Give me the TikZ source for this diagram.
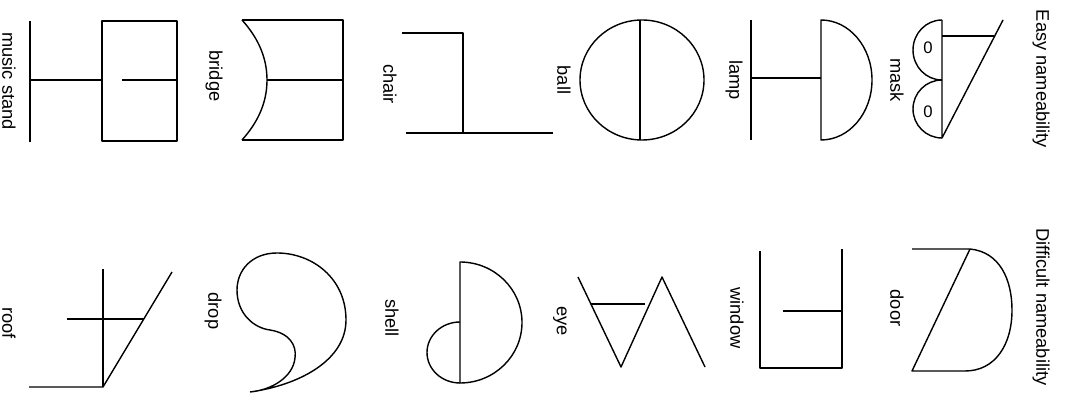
\documentclass[tikz,border=0pt]{standalone}
\usepackage{fontspec}
\setmainfont{Liberation Sans}
\usetikzlibrary{positioning}

\begin{document}
\begin{tikzpicture}[
    x=0.02cm, y=-0.02cm,
    every node/.style={font=\fontsize{10.4}{12}\selectfont},
    lbl/.style={rotate=-90, inner sep=0pt},
    fig/.style={line width=0.8pt, black, line join=round}
]
\useasboundingbox (0,0) rectangle (1065,394);

% --- Group headings ---
\node[lbl] (easy) at (1041,79) {Easy nameability};
\node[lbl] (hard) at (1041,307) {Difficult nameability};

% --- Easy row ---
% music stand
\draw[fig] (30,21) -- (30,142);
\draw[fig] (30,80) -- (102,80);
\draw[fig] (102,21) rectangle (177,141);
\draw[fig] (122,80) -- (177,80);
\node[lbl] (musicstand) at (9,81) {music stand};

% bridge
\draw[fig] (242,20) .. controls (260,40) and (267,60) .. (267,80)
    .. controls (267,100) and (260,120) .. (242,140);
\draw[fig] (242,20) -- (343,20) -- (343,140) -- (242,140);
\draw[fig] (267,80) -- (343,80);
\node[lbl] (bridge) at (214,76) {bridge};

% chair
\draw[fig] (402,33) -- (463,33) -- (463,133);
\draw[fig] (406,133) -- (553,133);
\node[lbl] (chair) at (390,84) {chair};

% ball
\draw[fig] (642,80) ellipse [x radius=62, y radius=60];
\draw[fig] (640,20) -- (640,140);
\node[lbl] (ball) at (564,80) {ball};

% lamp
\draw[fig] (751,20) -- (751,140);
\draw[fig] (751,78) -- (821,78);
\draw[fig] (821,20) arc[start angle=-90, end angle=90, x radius=51, y radius=60] -- cycle;
\node[lbl] (lamp) at (734,80) {lamp};

% mask
\draw[fig] (942,20) arc[start angle=-90, end angle=-270, x radius=29, y radius=30];
\draw[fig] (942,80) arc[start angle=-90, end angle=-270, x radius=29, y radius=29];
\draw[fig] (942,20) -- (942,138) -- (1003,20);
\draw[fig] (942,36) -- (994,36);
\node[font=\fontsize{9.5}{10}\selectfont, inner sep=0pt] (eyetop) at (928,48) {0};
\node[font=\fontsize{9.5}{10}\selectfont, inner sep=0pt] (eyebot) at (928,112) {0};
\node[lbl] (mask) at (897,80) {mask};

% --- Difficult row ---
% roof
\draw[fig] (103,269) -- (103,387);
\draw[fig] (29,387) -- (103,387) -- (172,272);
\draw[fig] (67,319) -- (144,319);
\node[lbl] (roof) at (9,323) {roof};

% drop
\draw[fig] (250,392) .. controls (300,385) and (346,360) .. (346,320)
    .. controls (346,278) and (312,253) .. (277,253)
    .. controls (252,253) and (237,270) .. (237,290)
    .. controls (237,314) and (254,328) .. (270,330)
    .. controls (289,333) and (297,345) .. (295,358)
    .. controls (293,377) and (272,390) .. (250,392);
\node[lbl] (drop) at (213,311) {drop};

% shell
\draw[fig] (460,262) arc[start angle=-90, end angle=90, x radius=62, y radius=60.5] -- cycle;
\draw[fig] (460,322) arc[start angle=-90, end angle=-270, x radius=33, y radius=30.5];
\node[lbl] (shell) at (392,318) {shell};

% eye
\draw[fig] (578,277) -- (621,367) -- (662,277) -- (705,367);
\draw[fig] (591,304) -- (645,304);
\node[lbl] (eye) at (560,321) {eye};

% window
\draw[fig] (760,251) -- (760,368) -- (842,368) -- (842,249);
\draw[fig] (783,311) -- (842,311);
\node[lbl] (window) at (737,318) {window};

% door
\draw[fig] (912,249) -- (970,249)
    .. controls (1000,252) and (1012,280) .. (1012,310)
    .. controls (1012,345) and (995,371) .. (965,371) -- (912,371) -- (970,249);
\node[lbl] (door) at (897,308) {door};

\end{tikzpicture}
\end{document}
